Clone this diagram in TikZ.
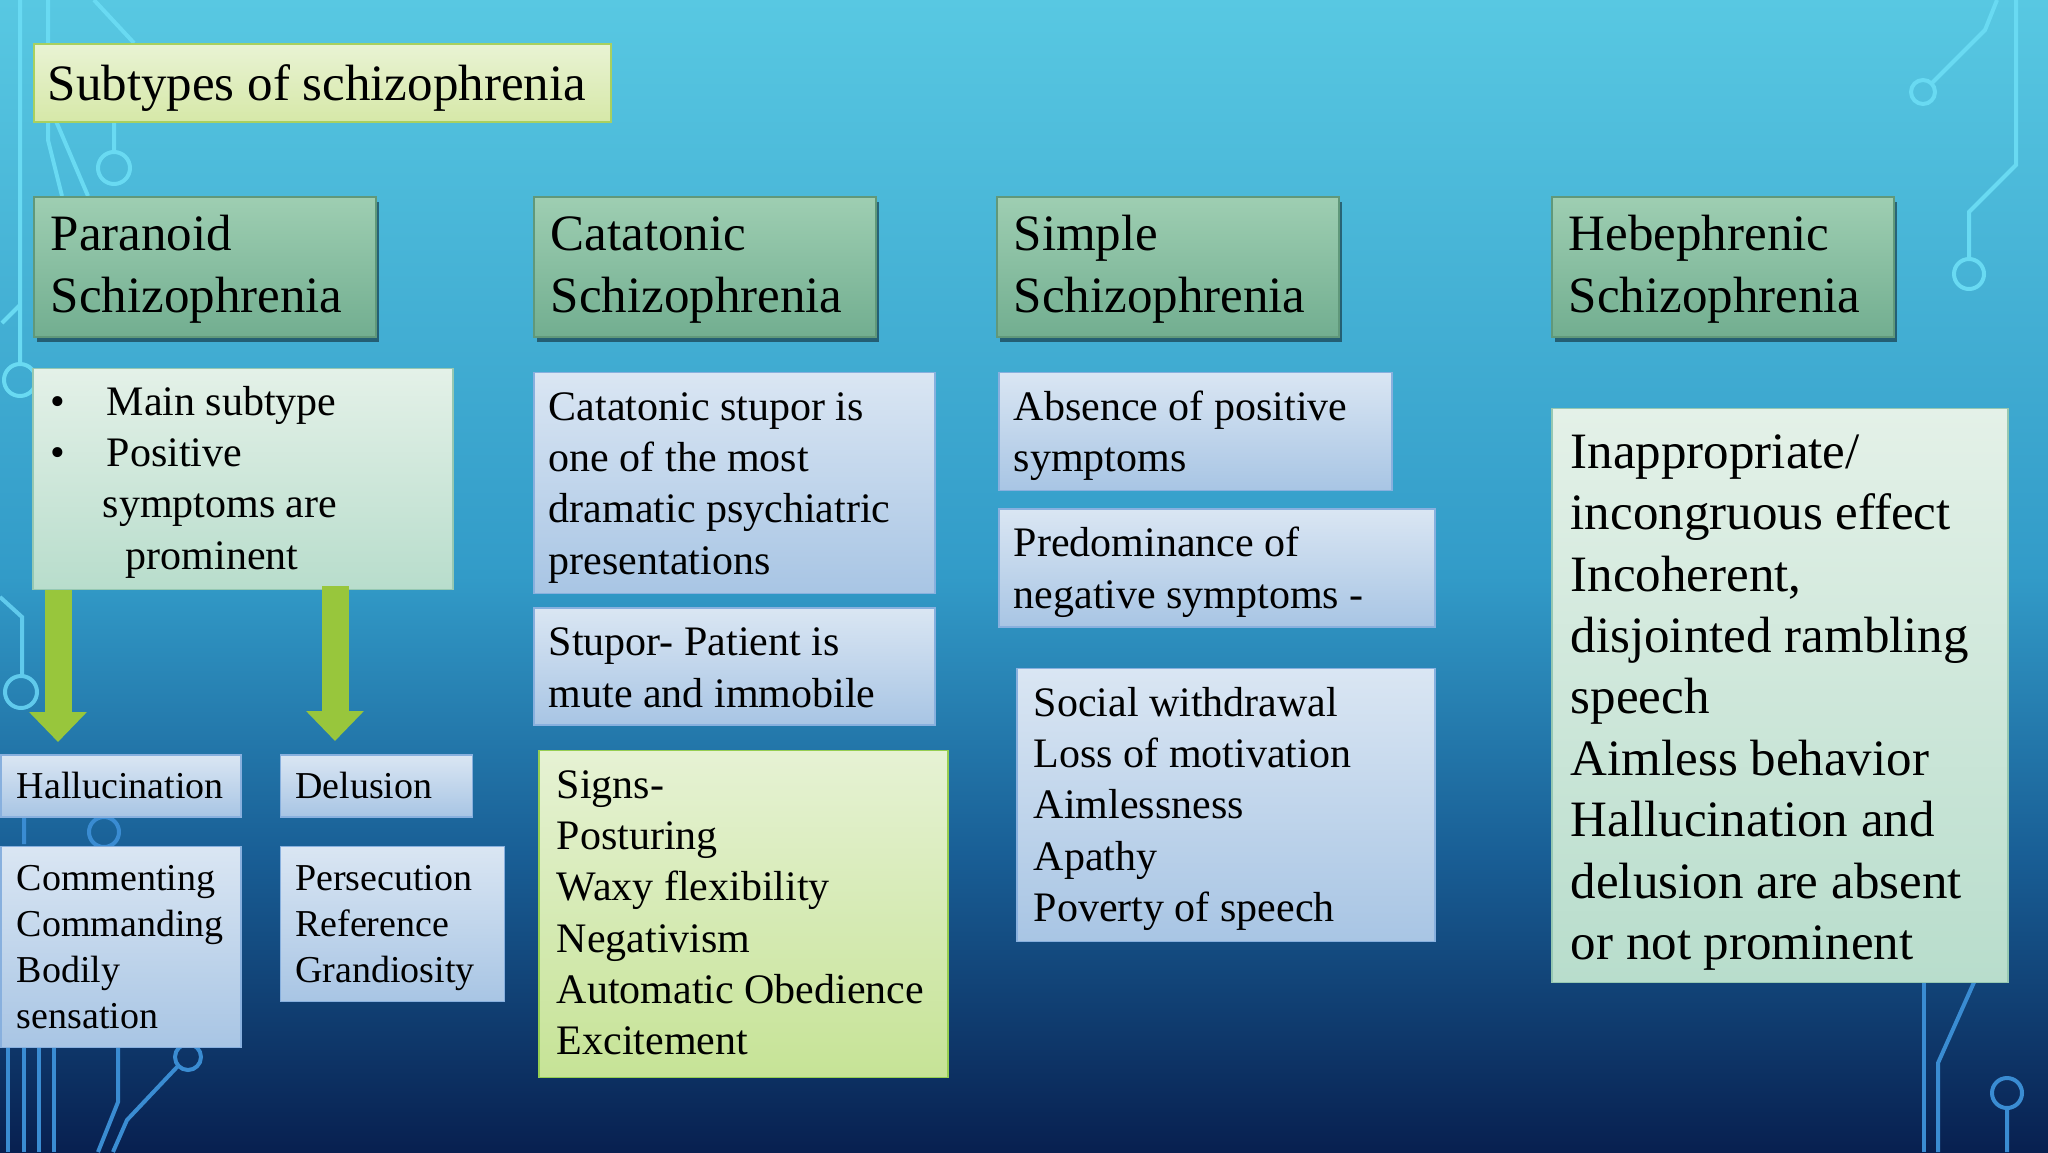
\documentclass[tikz,border=0pt]{standalone}
\usepackage{fontspec}
\setmainfont{Liberation Serif}
\usepackage{xcolor}
\usepackage{tikz}
\usetikzlibrary{arrows.meta,positioning,shadows}
\definecolor{bgtop}{RGB}{88,200,226}
\definecolor{bgmid}{RGB}{50,155,200}
\definecolor{bglow}{RGB}{25,95,150}
\definecolor{bgbot}{RGB}{8,32,80}
\definecolor{decolight}{RGB}{105,218,242}
\definecolor{decodark}{RGB}{58,140,210}
\definecolor{titletop}{RGB}{233,243,212}
\definecolor{titlebot}{RGB}{214,232,168}
\definecolor{titleedge}{RGB}{168,208,96}
\definecolor{headtop}{RGB}{158,206,178}
\definecolor{headbot}{RGB}{114,174,144}
\definecolor{headedge}{RGB}{96,152,122}
\definecolor{bluetop}{RGB}{218,230,243}
\definecolor{bluebot}{RGB}{168,197,228}
\definecolor{blueedge}{RGB}{136,176,222}
\definecolor{minttop}{RGB}{228,241,232}
\definecolor{mintbot}{RGB}{184,221,204}
\definecolor{mintedge}{RGB}{150,200,178}
\definecolor{limetop}{RGB}{230,242,212}
\definecolor{limebot}{RGB}{198,227,150}
\definecolor{limeedge}{RGB}{150,206,82}
\definecolor{arrowgreen}{RGB}{152,198,60}
\pgfdeclareverticalshading{slidebg}{100bp}{color(0bp)=(bgbot); color(25bp)=(bgbot); color(38bp)=(bglow); color(50bp)=(bgmid); color(75bp)=(bgtop); color(100bp)=(bgtop)}
\newcommand{\hdfont}{\fontsize{51}{62}\selectfont}
\newcommand{\txtfont}{\fontsize{42}{51.3}\selectfont}
\newcommand{\smfont}{\fontsize{38}{46}\selectfont}

\begin{document}
\begin{tikzpicture}[
    x=1pt, y=1pt,
    box/.style={rectangle, draw, anchor=north west, align=flush left, inner ysep=0pt, line width=1.5pt},
    titlebox/.style={box, top color=titletop, bottom color=titlebot, draw=titleedge, inner xsep=14pt, text width=549pt, font=\hdfont, text height=57pt, text depth=21pt},
    headbox/.style={box, top color=headtop, bottom color=headbot, draw=headedge, inner xsep=17pt, text width=308pt, font=\hdfont, text height=54pt, text depth=86pt, drop shadow={shadow xshift=3pt, shadow yshift=-5pt, fill=black, opacity=0.45}},
    bluebox/.style={box, top color=bluetop, bottom color=bluebot, draw=blueedge, inner xsep=15pt, font=\txtfont},
    mintbox/.style={box, top color=minttop, bottom color=mintbot, draw=mintedge, font=\txtfont},
    limebox/.style={box, top color=limetop, bottom color=limebot, draw=limeedge, font=\txtfont},
    deco/.style={line width=4pt},
    fatarrow/.style={draw=arrowgreen, line width=27pt, -{Triangle[width=56pt,length=30pt]}}
]

\useasboundingbox (0,0) rectangle (2048,-1152);
\shade [shading=slidebg] (0,0) rectangle (2048,-1152);

\draw [deco, decolight] (20,0) -- (20,-364) (20,-380) circle [radius=16pt];
\draw [deco, decolight] (48,0) -- (48,-140) -- (62,-196);
\draw [deco, decolight] (94,0) -- (134,-43);
\draw [deco, decolight] (56,-121) -- (88,-196);
\draw [deco, decolight] (114,-121) -- (114,-152) (114,-168) circle [radius=16pt];
\draw [deco, decolight] (2,-323) -- (20,-305);
\draw [deco, decolight!80!decodark] (0,-597) -- (22,-617) -- (22,-676) (21,-692) circle [radius=16pt];
\draw [deco, decolight] (1997,0) -- (1985,-30) -- (1932,-83) (1923,-92) circle [radius=12pt];
\draw [deco, decolight] (2016,0) -- (2016,-165) -- (1969,-212) -- (1969,-259) (1969,-274) circle [radius=15pt];
\draw [deco, decodark] (24,-816) -- (24,-844) (104,-832) circle [radius=15pt];
\foreach \x in {8,24,39,54}
    \draw [deco, decodark] (\x,-1045) -- (\x,-1152);
\draw [deco, decodark] (118,-1045) -- (118,-1102) -- (98,-1152);
\draw [deco, decodark] (188,-1057) circle [radius=13pt] (178,-1066) -- (127,-1120) -- (113,-1152);
\draw [deco, decodark] (1924,-980) -- (1924,-1152);
\draw [deco, decodark] (1975,-980) -- (1938,-1063) -- (1938,-1152);
\draw [deco, decodark] (2007,-1093) circle [radius=15pt] (2007,-1108) -- (2007,-1152);

\node [titlebox] (title) at (33,-43) {\mbox{Subtypes of schizophrenia}};

\node [headbox] (parhead) at (33,-196) {Paranoid\\Schizophrenia};
\node [headbox] (cathead) at (533,-196) {Catatonic\\Schizophrenia};
\node [headbox] (simhead) at (996,-196) {Simple\\Schizophrenia};
\node [headbox] (hebhead) at (1551,-196) {Hebephrenic\\Schizophrenia};

\node [mintbox, below=30pt of parhead.south west, anchor=north west, xshift=-1pt, inner xsep=18pt, text width=384pt, text height=47pt, text depth=174pt] (pardesc)
    {\makebox[56pt][l]{\textbullet}Main subtype\\
     \makebox[56pt][l]{\textbullet}Positive\\
     \hspace*{52pt}symptoms are\\
     \hspace*{75pt}prominent};

\node [bluebox, font=\smfont, inner xsep=16pt, text width=208pt, text height=44pt, text depth=18pt] (halluc) at (0,-754) {Hallucination};
\node [bluebox, font=\smfont, right=38pt of halluc.north east, anchor=north west, text width=162pt, text height=44pt, text depth=18pt] (delusion) {Delusion};
\node [bluebox, font=\smfont, below=28pt of halluc.south west, anchor=north west, inner xsep=16pt, text width=208pt, text height=44pt, text depth=157pt] (halltypes)
    {Commenting\\Commanding\\Bodily\\sensation};
\node [bluebox, font=\smfont, below=28pt of delusion.south west, anchor=north west, text width=194pt, text height=44pt, text depth=111pt] (deltypes)
    {Persecution\\Reference\\Grandiosity};

\coordinate [right=26pt of pardesc.south west] (hallarrow);
\coordinate [right=303pt of pardesc.south west] (delarrow);
\path [fatarrow, shorten >=12pt] (hallarrow) -- (hallarrow |- halluc.north);
\path [fatarrow, shorten >=13pt] ([yshift=4pt]delarrow) -- (delarrow |- delusion.north);

\node [bluebox, below=34pt of cathead.south west, anchor=north west, text width=371pt, text height=48pt, text depth=173pt] (catdesc)
    {Catatonic stupor is\\one of the most\\dramatic~psychiatric\\presentations};
\node [bluebox, below=13pt of catdesc.south west, anchor=north west, text width=371pt, text height=48pt, text depth=69pt] (stupor)
    {Stupor- Patient is\\mute and immobile};
\node [limebox, below=24pt of stupor.south west, anchor=north west, xshift=5pt, inner xsep=18pt, text width=373pt, text height=48pt, text depth=279pt] (signs)
    {Signs-\\Posturing\\Waxy flexibility\\Negativism\\Automatic~Obedience\\Excitement};

\node [bluebox, below=34pt of simhead.south west, anchor=north west, xshift=2pt, text width=363pt, text height=48pt, text depth=70pt] (absence)
    {Absence of positive\\symptoms};
\node [bluebox, below=17pt of absence.south west, anchor=north west, text width=406pt, text height=48pt, text depth=70pt] (predom)
    {Predominance of\\negative symptoms -};
\node [bluebox, below=40pt of predom.south west, anchor=north west, xshift=18pt, inner xsep=17pt, text width=384pt, text height=48pt, text depth=225pt] (negsigns)
    {Social withdrawal\\Loss of motivation\\Aimlessness\\Apathy\\Poverty of speech};

\node [mintbox, below=70pt of hebhead.south west, anchor=north west, font={\fontsize{51}{61.4}\selectfont}, inner xsep=19pt, text width=418pt, text height=60pt, text depth=514pt] (hebdesc)
    {Inappropriate/\\incongruous effect\\Incoherent,\\disjointed~rambling\\speech\\Aimless behavior\\Hallucination and\\delusion are absent\\or not prominent};

\end{tikzpicture}
\end{document}
